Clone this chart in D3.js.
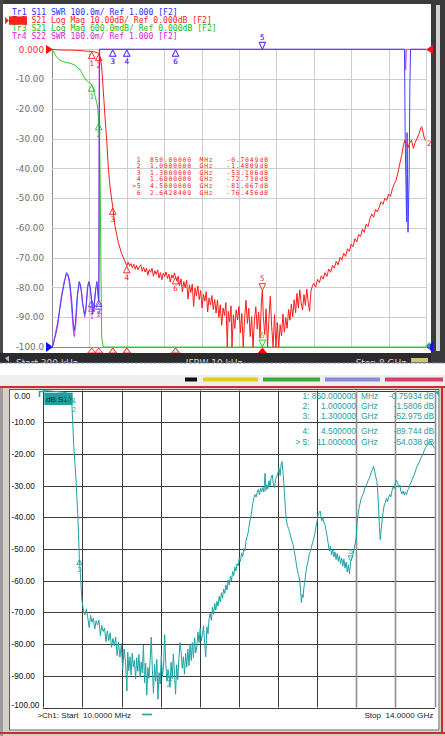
<!DOCTYPE html>
<html><head><meta charset="utf-8">
<script src="https://cdn.jsdelivr.net/npm/d3@7/dist/d3.min.js"></script>
<style>body{margin:0;background:#fff}svg{display:block}text{white-space:pre}</style>
</head><body>
<svg id="c" width="445" height="736"></svg>
<script>
// ================= DATA =================
// ---- top analyzer (ENA style) ----
const topStart = 0.0003, topStop = 8;           // GHz
const topTitleLines = ["Tr1 S11 SWR 100.0m/ Ref 1.000 [F2]",
  "Tr2 S21 Log Mag 10.00dB/ Ref 0.000dB [F2]",
  "Tr3 S21 Log Mag 600.0mdB/ Ref 0.000dB [F2]",
  "Tr4 S22 SWR 100.0m/ Ref 1.000 [F2]"];
const topYTicks = [0,-10,-20,-30,-40,-50,-60,-70,-80,-90,-100];
const topYTickLabels = ["0.000","-10.00","-20.00","-30.00","-40.00","-50.00","-60.00","-70.00","-80.00","-90.00","-100.0"];
const topStatus = ["Start 300 kHz","IFBW 10 kHz","Stop 8 GHz"];
const topMarkerNums = ["1","2","3","4",">5","6"];
const topMarkerFreqs = [0.85,1.0,1.3,1.6,4.5,2.6428409];
const topMarkerFreqText = ["850.00000","1.0000000","1.3000000","1.6000000","4.5000000","2.6428409"];
const topMarkerUnits = ["MHz","GHz","GHz","GHz","GHz","GHz"];
const topMarkerValues = [-0.7049,-1.4809,-53.106,-72.730,-81.067,-76.456];
const topMarkerValueText = ["-0.7049","-1.4809","-53.106","-72.730","-81.067","-76.456"];
const topActiveMarker = 4;
// S21 (Tr2 red at 10 dB/div, Tr3 green at 0.6 dB/div), [GHz, dB]
const s21Top = [[0.0003,0],[0.05,-0.08],[0.1,-0.16],[0.17,-0.22],[0.24,-0.25],[0.32,-0.27],[0.385,-0.28],[0.47,-0.31],[0.56,-0.37],[0.62,-0.44],[0.67,-0.53],[0.73,-0.62],[0.78,-0.66],[0.85,-0.7049],[0.89,-0.82],[0.92,-0.94],[0.96,-1.08],[0.98,-1.2],[1.0,-1.4809],[1.015,-1.7],[1.027,-2.4],[1.045,-4.2],[1.063,-5.8],[1.097,-13.7],[1.134,-22.7],[1.17,-30.5],[1.204,-39.5],[1.24,-46.0],[1.3,-53.106],[1.35,-59.6],[1.42,-65.0],[1.49,-68.6],[1.55,-70.8],
 [1.60,-72.73],[1.63,-71.5],[1.66,-72.8],[1.69,-72.0],[1.72,-73.4],[1.75,-72.2],[1.78,-73.9],[1.81,-72.6],[1.84,-74.1],[1.87,-73.0],[1.90,-72.4],[1.93,-74.6],[1.96,-73.2],[1.99,-74.8],[2.02,-73.5],[2.05,-75.9],[2.08,-74.0],[2.11,-74.9],[2.14,-73.6],[2.17,-76.2],[2.20,-74.4],[2.23,-75.6],[2.26,-74.1],[2.29,-76.8],[2.32,-75.0],[2.35,-77.4],[2.38,-75.2],[2.41,-76.3],[2.44,-74.8],[2.47,-77.0],[2.50,-75.5],[2.53,-78.2],[2.56,-75.8],[2.59,-76.9],[2.62,-75.1],[2.6428,-76.456],
 [2.67,-77.8],[2.70,-76.2],[2.73,-79.4],[2.76,-77.1],[2.79,-81.5],[2.82,-78.0],[2.85,-80.2],[2.88,-77.6],[2.91,-83.9],[2.94,-79.1],[2.97,-81.7],[3.00,-78.9],[3.03,-86.4],[3.06,-80.2],[3.09,-82.8],[3.12,-79.5],[3.15,-84.1],[3.18,-81.0],[3.21,-86.9],[3.24,-82.3],[3.27,-84.6],[3.30,-81.4],[3.33,-88.2],[3.36,-83.5],[3.39,-85.9],[3.42,-82.7],[3.45,-87.4],[3.48,-84.0],
 [3.51,-88.6],[3.54,-84.2],[3.57,-90.1],[3.60,-85.8],[3.63,-92.7],[3.66,-86.9],[3.69,-89.4],[3.72,-85.1],[3.75,-104],[3.77,-88.0],[3.80,-91.6],[3.83,-86.2],[3.85,-104],[3.88,-89.3],[3.91,-93.8],[3.94,-87.5],[3.97,-90.9],[4.00,-86.4],[4.03,-95.2],[4.06,-88.7],[4.09,-104],[4.12,-90.4],[4.15,-84.3],[4.18,-92.1],[4.21,-87.0],[4.24,-96.5],[4.27,-89.8],[4.30,-104],[4.33,-91.2],[4.36,-86.5],[4.39,-94.0],[4.42,-88.3],[4.45,-97.1],[4.48,-84.6],[4.50,-81.067],[4.52,-89.7],[4.55,-95.8],[4.58,-87.2],[4.61,-104],[4.64,-90.6],[4.67,-82.9],[4.70,-93.4],[4.73,-104],[4.76,-89.1],[4.79,-104],[4.82,-91.8],[4.85,-104],[4.88,-92.5],[4.91,-96.3],[4.94,-88.9],[4.97,-95.0],[5.00,-90.2],
 [5.03,-93.7],[5.06,-87.4],[5.09,-91.0],[5.12,-85.6],[5.15,-89.8],[5.18,-84.1],[5.21,-88.5],[5.24,-82.0],[5.27,-86.9],[5.30,-80.8],[5.33,-85.2],[5.36,-87.5],[5.39,-82.4],[5.42,-86.0],[5.45,-80.6],[5.48,-84.9],[5.51,-88.0],[5.54,-81.2],[5.57,-79.5],
 [5.60,-78.6],[5.64,-79.9],[5.68,-77.3],[5.72,-78.4],[5.76,-76.1],[5.80,-77.2],[5.84,-75.0],[5.88,-76.3],[5.92,-73.8],[5.96,-74.9],[6.00,-72.6],[6.04,-73.5],[6.08,-71.2],[6.12,-72.4],[6.16,-69.9],[6.20,-70.8],[6.24,-68.5],[6.28,-69.6],[6.32,-67.0],[6.36,-67.9],[6.40,-65.4],[6.44,-66.3],[6.48,-63.6],[6.52,-64.7],[6.56,-62.2],[6.60,-62.9],[6.64,-60.4],[6.68,-61.5],[6.72,-58.7],[6.76,-59.6],[6.80,-56.9],[6.84,-55.3],[6.88,-56.4],[6.92,-53.8],[6.96,-54.6],
 [7.00,-53.0],[7.04,-51.2],[7.08,-52.1],[7.12,-50.0],[7.16,-50.8],[7.20,-48.6],[7.24,-49.4],[7.28,-46.9],[7.32,-45.2],[7.36,-44.0],[7.40,-41.5],[7.44,-38.4],[7.48,-35.6],[7.52,-32.0],[7.55,-30.5],[7.58,-31.9],[7.62,-33.0],[7.65,-31.4],[7.69,-30.5],[7.73,-33.3],[7.77,-31.2],[7.81,-29.9],[7.85,-28.4],[7.89,-26.3],[7.91,-26.0],[7.94,-28.1],[7.97,-30.2],[8.00,-30.6]];
// S11 SWR (Tr1 blue) and S22 SWR (Tr4 magenta), [GHz, SWR]
const s11Top = [[0.0003,1.0],[0.02,1.005],[0.06,1.03],[0.12,1.07],[0.17,1.13],[0.22,1.18],[0.27,1.22],[0.31,1.25],[0.34,1.245],[0.38,1.22],[0.42,1.16],[0.46,1.07],[0.475,1.055],[0.50,1.08],[0.54,1.17],[0.58,1.22],[0.61,1.21],[0.65,1.15],[0.70,1.11],[0.72,1.12],[0.76,1.20],[0.79,1.22],[0.82,1.20],[0.87,1.13],[0.89,1.12],[0.93,1.19],[0.96,1.22],[0.99,1.18],[1.0,1.16],[1.006,1.25],[1.015,2.6],[7.54,2.6],[7.555,1.7],[7.585,1.42],[7.595,1.72],[7.615,1.385],[7.64,1.58],[7.655,1.88],[7.67,2.6],[8.0,2.6]];
const s22Top = [[0.0003,1.0],[0.03,1.01],[0.08,1.05],[0.14,1.10],[0.2,1.17],[0.26,1.22],[0.31,1.245],[0.35,1.235],[0.39,1.19],[0.43,1.11],[0.465,1.04],[0.48,1.035],[0.51,1.08],[0.55,1.18],[0.59,1.215],[0.63,1.19],[0.67,1.13],[0.70,1.10],[0.73,1.13],[0.77,1.21],[0.80,1.215],[0.84,1.16],[0.87,1.11],[0.90,1.13],[0.94,1.20],[0.97,1.20],[0.99,1.16],[1.0,1.15],[1.005,1.5],[1.012,2.6],[7.55,2.6],[7.565,1.93],[7.58,2.6],[8.0,2.6]];

// ---- bottom analyzer (PNA style) ----
const botStart = 0.01, botStop = 14;
const botYTicks = [0,-10,-20,-30,-40,-50,-60,-70,-80,-90,-100];
const botYTickLabels = ["0.00","-10.00","-20.00","-30.00","-40.00","-50.00","-60.00","-70.00","-80.00","-90.00","-100.00"];
const botTraceLabel = "dB S12";
const botStartText = ">Ch1: Start  10.0000 MHz";
const botStopText = "Stop  14.0000 GHz";
const botMarkerNums = ["1:","2:","3:","4:","> 5:"];
const botMarkerLabels = ["1","2","3","4","5"];
const botMarkerFreqs = [0.85,1.0,1.3,4.5,11.0];
const botMarkerFreqText = ["850.000000","1.000000","1.300000","4.500000","11.000000"];
const botMarkerUnits = ["MHz","GHz","GHz","GHz","GHz"];
const botMarkerValues = [-0.75934,-1.5806,-52.975,-89.744,-54.038];
const botMarkerValueText = ["-0.75934","-1.5806","-52.975","-89.744","-54.038"];
const botActiveMarker = 4;
const s12Bot = [[0.01,0],[0.2,-0.1],[0.5,-0.3],[0.7,-0.5],[0.85,-0.75934],[0.93,-1.1],[1.0,-1.5806],[1.03,-4.0],[1.06,-9.5],[1.1,-17.7],[1.14,-23.0],[1.18,-28.2],[1.21,-33.5],[1.24,-38.7],[1.27,-45.5],[1.3,-52.975],[1.33,-57.0],[1.36,-61.5],[1.39,-66.0],[1.43,-68.5],[1.47,-70.3],
 [1.50,-70.8],[1.55,-68.9],[1.60,-71.6],[1.65,-74.8],[1.70,-70.9],[1.75,-73.1],[1.80,-71.8],[1.85,-75.2],[1.90,-72.6],[1.95,-74.0],[2.00,-72.4],[2.05,-77.3],[2.10,-74.1],[2.15,-76.0],[2.20,-74.9],[2.25,-79.2],[2.30,-75.8],[2.35,-78.9],[2.40,-76.4],[2.45,-81.0],[2.50,-78.2],[2.55,-80.5],[2.60,-77.8],[2.65,-83.6],[2.70,-79.4],[2.75,-84.1],[2.80,-80.2],[2.85,-87.9],[2.90,-81.5],[2.95,-85.7],[3.00,-94.8],
 [3.03,-82.6],[3.07,-88.4],[3.11,-84.0],[3.15,-89.7],[3.19,-82.9],[3.23,-87.2],[3.27,-85.1],[3.31,-91.0],[3.35,-84.3],[3.39,-88.6],[3.43,-83.2],[3.47,-90.4],[3.51,-85.6],[3.55,-89.1],[3.59,-80.3],[3.63,-92.2],[3.67,-86.0],[3.71,-96.1],[3.75,-87.4],[3.79,-90.8],[3.83,-85.2],[3.87,-77.8],[3.91,-88.1],[3.95,-95.5],[3.99,-86.4],[4.03,-91.7],[4.07,-84.8],[4.11,-97.4],[4.15,-89.0],[4.19,-92.6],[4.23,-83.5],[4.27,-90.3],[4.31,-87.1],[4.35,-77.0],[4.39,-86.2],[4.43,-91.4],[4.47,-88.0],[4.50,-89.744],[4.54,-93.2],[4.58,-85.7],[4.62,-90.9],[4.66,-83.1],[4.70,-88.8],[4.74,-95.8],[4.78,-86.5],[4.82,-91.2],[4.86,-84.6],[4.90,-79.5],[4.94,-82.7],
 [4.98,-87.6],[5.02,-84.0],[5.06,-89.5],[5.10,-82.9],[5.14,-87.3],[5.18,-81.6],[5.22,-86.8],[5.26,-80.0],[5.30,-85.2],[5.34,-79.5],[5.38,-84.4],[5.42,-78.0],[5.46,-82.8],[5.50,-80.8],[5.54,-76.2],[5.58,-79.5],[5.62,-75.1],[5.66,-78.9],[5.70,-77.0],[5.74,-74.2],[5.78,-79.6],[5.82,-84.0],[5.86,-74.5],[5.90,-76.8],[5.94,-71.9],[5.98,-70.3],
 [6.02,-72.5],[6.06,-68.4],[6.10,-70.6],[6.14,-67.2],[6.18,-69.3],[6.22,-66.5],[6.26,-68.0],[6.30,-64.9],[6.34,-66.7],[6.38,-63.8],[6.42,-65.5],[6.46,-62.6],[6.50,-64.0],[6.54,-61.3],[6.58,-62.9],[6.62,-59.8],[6.66,-61.4],[6.70,-58.6],[6.74,-60.0],[6.78,-57.1],[6.82,-58.4],[6.86,-55.7],[6.90,-56.9],[6.94,-54.6],[6.98,-55.3],[7.02,-52.8],[7.06,-53.9],[7.10,-51.2],[7.14,-52.4],[7.18,-49.8],[7.22,-50.6],[7.26,-47.3],[7.30,-46.0],[7.34,-44.6],[7.38,-42.1],[7.42,-40.2],[7.46,-38.3],[7.50,-35.7],[7.54,-33.9],[7.58,-32.8],[7.62,-33.6],[7.66,-32.1],[7.70,-31.2],[7.74,-32.9],[7.78,-30.8],[7.82,-31.9],[7.86,-30.6],[7.90,-32.0],[7.94,-26.1],[7.97,-31.5],
 [8.00,-29.7],[8.04,-31.0],[8.08,-28.4],[8.12,-30.2],[8.16,-27.3],[8.20,-26.6],[8.24,-29.8],[8.28,-30.6],[8.32,-28.0],[8.36,-27.1],[8.40,-26.0],[8.44,-24.5],[8.48,-26.8],[8.52,-23.0],[8.55,-22.4],[8.58,-25.6],[8.61,-28.9],[8.64,-33.2],[8.67,-37.5],[8.70,-40.8],[8.74,-42.6],[8.78,-43.5],[8.82,-44.7],[8.86,-46.2],[8.90,-47.4],[8.94,-48.6],[8.98,-50.5],[9.02,-52.3],[9.06,-54.8],[9.10,-56.9],[9.14,-58.1],[9.18,-60.2],[9.21,-62.8],[9.24,-66.9],[9.27,-64.4],[9.30,-65.3],[9.33,-62.1],[9.36,-60.5],[9.40,-57.4],[9.44,-55.2],[9.48,-53.8],[9.52,-51.6],[9.56,-50.7],[9.60,-49.4],[9.64,-47.9],[9.68,-46.8],[9.72,-45.1],[9.76,-43.0],[9.80,-41.2],[9.84,-39.0],[9.88,-38.5],[9.91,-38.0],[9.94,-39.6],[9.97,-41.1],
 [10.00,-40.0],[10.04,-41.5],[10.08,-42.2],[10.12,-44.1],[10.16,-46.0],[10.20,-48.3],[10.24,-50.6],[10.28,-49.1],[10.32,-51.8],[10.36,-50.2],[10.40,-52.5],[10.44,-50.9],[10.48,-53.3],[10.52,-51.4],[10.56,-53.9],[10.60,-52.1],[10.64,-54.6],[10.68,-52.8],[10.72,-55.4],[10.76,-53.2],[10.80,-56.0],[10.84,-54.1],[10.88,-57.2],[10.92,-55.0],[10.96,-57.8],[11.00,-54.038],[11.04,-53.0],[11.08,-51.7],[11.12,-50.2],[11.16,-48.4],[11.20,-46.5],[11.23,-42.0],[11.26,-39.5],[11.30,-37.2],[11.34,-35.5],[11.38,-34.0],[11.42,-33.2],[11.46,-32.4],[11.50,-31.0],[11.54,-30.3],[11.58,-29.5],[11.62,-28.5],[11.66,-27.8],[11.70,-26.9],[11.74,-25.7],[11.78,-24.9],[11.82,-23.9],[11.86,-25.5],[11.90,-27.2],[11.94,-28.6],[11.97,-32.0],
 [12.00,-37.0],[12.03,-43.0],[12.06,-47.0],[12.09,-44.0],[12.12,-41.5],[12.16,-38.5],[12.20,-36.2],[12.24,-35.4],[12.28,-34.0],[12.32,-35.1],[12.36,-33.6],[12.40,-32.8],[12.44,-33.5],[12.48,-31.6],[12.52,-30.4],[12.56,-30.9],[12.60,-29.2],[12.64,-28.3],[12.68,-29.0],[12.72,-30.5],[12.76,-29.8],[12.80,-31.8],[12.84,-32.6],[12.88,-31.7],[12.92,-33.0],[12.96,-32.0],[13.00,-32.8],[13.04,-31.4],[13.08,-31.0],[13.12,-29.7],[13.16,-29.0],[13.20,-28.1],[13.24,-27.3],[13.28,-26.4],[13.32,-25.4],[13.36,-24.2],[13.40,-23.5],[13.44,-22.8],[13.48,-22.0],[13.52,-21.2],[13.56,-20.6],[13.60,-19.7],[13.64,-18.9],[13.68,-18.0],[13.72,-17.4],[13.76,-16.9],[13.80,-16.3],[13.84,-15.9],[13.88,-16.5],[13.92,-17.1],[13.96,-17.6],[14.00,-18.2]];

// ================= DRAWING =================
const svg = d3.select('#c');
const MONO = "'DejaVu Sans Mono', monospace";
const SANS = "'DejaVu Sans', sans-serif";
const ARIAL = "'Liberation Sans', Arial, sans-serif";
function rect(x,y,w,h,fill){return svg.append('rect').attr('x',x).attr('y',y).attr('width',w).attr('height',h).attr('fill',fill);}
function hline(g,x1,x2,y,c,w){return g.append('line').attr('x1',x1).attr('x2',x2).attr('y1',y).attr('y2',y).attr('stroke',c).attr('stroke-width',w||1);}
function vline(g,x,y1,y2,c,w){return g.append('line').attr('x1',x).attr('x2',x).attr('y1',y1).attr('y2',y2).attr('stroke',c).attr('stroke-width',w||1);}
function interp(data,f){
  const i = d3.bisector(d=>d[0]).left(data,f);
  if(i<=0) return data[0][1]; if(i>=data.length) return data[data.length-1][1];
  const a=data[i-1], b=data[i]; return a[1]+(b[1]-a[1])*(f-a[0])/(b[0]-a[0]);
}
const crisp = v => Math.round(v)+0.5;

// ---------- TOP PANEL ----------
rect(0,0,445,363,'#ffffff');
rect(0,0,445,4,'#3b3b3b');
rect(0,0,3,363,'#4a4a4a');
rect(431,0,14,363,'#3a3a3a');
rect(436,5,4,346,'#d2d2d2');

const xT = d3.scaleLinear().domain([topStart, topStop]).range([52,426]);
const yR = d3.scaleLinear().domain([-100,0]).range([347,49.3]).clamp(true);
const yG = d3.scaleLinear().domain([-6,0]).range([347,49.3]).clamp(true);
const yS = d3.scaleLinear().domain([1,2]).range([347,49.3]).clamp(true);

const gT = svg.append('g');
const topXGrid = d3.range(11).map(i=>topStart+i*(topStop-topStart)/10);
topXGrid.forEach((f,i)=>vline(gT,crisp(xT(f)),49,347, i===0?'#8c8c8c':'#cdcdcd'));
topYTicks.forEach((v,i)=>hline(gT,52,426,crisp(yR(v)), i===topYTicks.length-1?'#8c8c8c':'#cdcdcd'));

topYTicks.forEach((v,i)=>{
  gT.append('text').attr('x',44).attr('y',yR(v)+3.2).attr('text-anchor','end')
    .attr('font-family',SANS).attr('font-size',8.8)
    .attr('fill', i===0?'#ff3030':'#6e6e6e').text(topYTickLabels[i]);
});
function tri(g,pts,fill){g.append('path').attr('d','M'+pts.map(p=>p.join(',')).join('L')+'Z').attr('fill',fill);}
tri(gT,[[46,45],[53,49.5],[46,54]],'#ff1010');
tri(gT,[[433,45],[426,49.5],[433,54]],'#ff1010');
tri(gT,[[46,342],[53,347],[46,352]],'#1010ff');
tri(gT,[[433,342],[426,347],[433,352]],'#1010ff');
tri(gT,[[430,342],[426,345.5],[430,349]],'#20c020');

topTitleLines.forEach((s,i)=>{
  const y = 14.7 + i*8.2;
  if(i===1){
    rect(9,16.4,18,8.4,'#ff2020');
    tri(gT,[[5,17],[9,20.6],[5,24.2]],'#ff2020');
  }
  const t = gT.append('text').attr('x',12).attr('y',y).attr('font-family',MONO).attr('font-size',8.1)
    .attr('fill',['#2030ff','#ff2020','#10c010','#e020e0'][i]);
  if(i===1){ t.append('tspan').attr('fill','#6a0000').text(s.slice(0,3)); t.append('tspan').text(s.slice(3)); }
  else t.text(s);
});

svg.append('clipPath').attr('id','clipT').append('rect').attr('x',51).attr('y',48).attr('width',376).attr('height',300.5);
const gTr = gT.append('g').attr('clip-path','url(#clipT)');
const lineT = (ys)=>d3.line().x(d=>xT(d[0])).y(d=>ys(d[1]));
gTr.append('path').datum(s22Top).attr('d',lineT(yS)).attr('fill','none').attr('stroke','#e33ae3').attr('stroke-width',1);
gTr.append('path').datum(s21Top).attr('d',lineT(yG)).attr('fill','none').attr('stroke','#22d022').attr('stroke-width',1);
gTr.append('path').datum(s11Top).attr('d',lineT(yS)).attr('fill','none').attr('stroke','#4040ff').attr('stroke-width',1);
gTr.append('path').datum(s21Top).attr('d',lineT(yR)).attr('fill','none').attr('stroke','#ff1a1a').attr('stroke-width',1);

function mUp(g,x,y,c,label,h,w,fs,font,lo,dx){
  g.append('path').attr('d',`M${x},${y}L${x+w},${y+h}L${x-w},${y+h}Z`).attr('fill','none').attr('stroke',c).attr('stroke-width',0.9);
  g.append('text').attr('x',x+(dx||0)).attr('y',y+h+lo).attr('text-anchor','middle').attr('font-family',font).attr('font-size',fs).attr('fill',c).text(label);
}
function mDown(g,x,y,c,label,h,w,fs,font,lo){
  g.append('path').attr('d',`M${x},${y}L${x+w},${y-h}L${x-w},${y-h}Z`).attr('fill','none').attr('stroke',c).attr('stroke-width',0.9);
  g.append('text').attr('x',x).attr('y',y-h-lo).attr('text-anchor','middle').attr('font-family',font).attr('font-size',fs).attr('fill',c).text(label);
}
const gM = gT.append('g');
const mLabels = ["1","2","3","4","5","6"];
function topMarkers(data, ys, c, useTable){
  topMarkerFreqs.forEach((f,i)=>{
    const v = useTable ? topMarkerValues[i] : interp(data,f);
    const x = xT(f), y = ys(v);
    if(i===topActiveMarker) mDown(gM,x,y,c,mLabels[i],7,3.3,7.5,MONO,2.5);
    else mUp(gM,x,y+0.5,c,mLabels[i],6.5,3.3,7.5,MONO,7.5);
  });
}
topMarkers(s22Top,yS,'#e33ae3',false);
topMarkers(s11Top,yS,'#4040ff',false);
topMarkers(s21Top,yG,'#22c022',true);
topMarkers(s21Top,yR,'#ff1a1a',true);
topMarkerFreqs.forEach((f,i)=>{
  const x = xT(f);
  if(i===topActiveMarker) tri(gT,[[x,347.5],[x+4.5,353],[x-4.5,353]],'#ff0000');
  else gT.append('path').attr('d',`M${x},348L${x+4},353L${x-4},353Z`).attr('fill','#ffd0d0').attr('stroke','#ff3030').attr('stroke-width',0.9).attr('fill-opacity',0.6);
});
gT.append('text').attr('x',427).attr('y',146).attr('font-family',MONO).attr('font-size',7.5).attr('fill','#ff1a1a').text('2');

// marker table (top)
topMarkerNums.forEach((n,i)=>{
  const y = 161.8 + i*6.55;
  const tt = (x,s,anchor)=>gT.append('text').attr('x',x).attr('y',y).attr('text-anchor',anchor||'start')
     .attr('font-family',MONO).attr('font-size',6.4).attr('letter-spacing',0.8).attr('fill','#ff2020').text(s);
  tt(141.5,n,'end'); tt(150,topMarkerFreqText[i]); tt(199.5,topMarkerUnits[i]); tt(226.5,topMarkerValueText[i]); tt(259.5,'dB');
});

// status strip
rect(0,353,431,10,'#2b2b2b');
svg.append('clipPath').attr('id','clipS').append('rect').attr('x',0).attr('y',353).attr('width',445).attr('height',9.5);
const gS = svg.append('g').attr('clip-path','url(#clipS)');
gS.append('text').attr('x',16).attr('y',365.5).attr('font-family',SANS).attr('font-size',9).attr('fill','#dcdcdc').text(topStatus[0]);
gS.append('text').attr('x',214).attr('y',365.5).attr('text-anchor','middle').attr('font-family',SANS).attr('font-size',9).attr('fill','#dcdcdc').text(topStatus[1]);
gS.append('text').attr('x',406).attr('y',365.5).attr('text-anchor','end').attr('font-family',SANS).attr('font-size',9).attr('fill','#dcdcdc').text(topStatus[2]);
gS.append('rect').attr('x',411).attr('y',358).attr('width',17).attr('height',6).attr('fill','#c8c878');
tri(gS,[[5,358],[9,356],[9,362]],'#bbbbbb');
svg.append('line').attr('x1',0).attr('x2',445).attr('y1',363).attr('y2',363).attr('stroke','#6f8fc6').attr('stroke-dasharray','3,1.5');

// ---------- BOTTOM PANEL ----------
rect(0,375,445,11,'#eeeeee');
[[185,12,'#111111'],[203,55,'#e2cf10'],[263,57,'#3aaa3a'],[325,55,'#8a8ad6'],[385,58,'#d6406c']].forEach(t=>rect(t[0],377.5,t[1],4,t[2]));
rect(0,386,445,350,'#d4d0c8');
rect(0,386,3,350,'#9c9c9c');
rect(0,386,445,2,'#d22a2a');
rect(9,389,431,342,'#ffffff');
svg.append('rect').attr('x',9.5).attr('y',389.5).attr('width',429.5).attr('height',340.5).attr('fill','none').attr('stroke','#5a5a5a');
rect(441,386,2,348,'#d22a2a');
rect(0,732,445,2,'#d22a2a');

const xB = d3.scaleLinear().domain([botStart, botStop]).range([43.3,434.5]);
const yB = d3.scaleLinear().domain([-100,0]).range([707.5,390.6]).clamp(true);
const gB = svg.append('g');
const botXGrid = d3.range(11).map(i=>botStart+i*(botStop-botStart)/10);
botYTicks.forEach((v,i)=>hline(gB,43,435,crisp(yB(v)),'#3c3c3c'));
botXGrid.forEach((f,i)=>{
  const x = crisp(xB(f));
  if(i>=8) vline(gB,x,390.6,707.5,'#8e8e8e',1.6);
  else vline(gB,x,390.6,707.5,'#3c3c3c');
});
botYTicks.forEach((v,i)=>{
  let y = yB(v)+3;
  if(i===0) y = 399; if(i===botYTicks.length-1) y = 708;
  gB.append('text').attr('x', i===0?14.3:11.6).attr('y',y).attr('font-family',ARIAL).attr('font-size',8.2)
    .attr('fill','#111').text(botYTickLabels[i]);
});
svg.append('clipPath').attr('id','clipB').append('rect').attr('x',43).attr('y',390).attr('width',392).attr('height',318);
const gBt = gB.append('g').attr('clip-path','url(#clipB)');
gBt.append('path').datum(s12Bot).attr('d',d3.line().x(d=>xB(d[0])).y(d=>yB(d[1])))
  .attr('fill','none').attr('stroke','#1ea3a3').attr('stroke-width',1);
gB.append('path').attr('d','M39.5,397L39.5,391.5L46,391.5').attr('fill','none').attr('stroke','#1ea3a3').attr('stroke-width',1.5);
tri(gB,[[435,391],[438.5,391],[438.5,396]],'#1ea3a3');
gB.append('rect').attr('x',44.3).attr('y',392.7).attr('width',28.4).attr('height',12.3).attr('fill','#1fa0a0');
gB.append('text').attr('x',46).attr('y',402).attr('font-family',ARIAL).attr('font-size',8).attr('fill','#0a2a2a').text(botTraceLabel);
const botLabelLift = [4, 1, 0, 0];   // label spacing tweaks (style)
const botLabelDx = [7.5, 3, 0, 0];
botMarkerFreqs.forEach((f,i)=>{
  const x = xB(f), y = yB(botMarkerValues[i]);
  if(i===botActiveMarker) mDown(gB,x,y-1,'#1ea3a3',botMarkerLabels[i],5,2.5,8,ARIAL,1.5);
  else mUp(gB,x,y+1,'#1ea3a3',botMarkerLabels[i],5,2.5,i<2?7:8,ARIAL,7.5-botLabelLift[i]+(i===1?4:0),botLabelDx[i]);
});
// marker table (bottom)
const botRowsY = [399,409,419,434,444.6];
botMarkerNums.forEach((n,i)=>{
  const y = botRowsY[i];
  const tt = (x,s,anchor)=>gB.append('text').attr('x',x).attr('y',y).attr('text-anchor',anchor||'start')
     .attr('font-family',ARIAL).attr('font-size',8.4).attr('fill','#1e9e9e').text(s);
  tt(309.5,n,'end'); tt(356,botMarkerFreqText[i],'end'); tt(361,botMarkerUnits[i]); tt(422,botMarkerValueText[i],'end'); tt(423.8,'dB');
});
gB.append('text').attr('x',37.3).attr('y',718).attr('font-family',ARIAL).attr('font-size',8.1).attr('fill','#1a1a1a').text(botStartText);
gB.append('line').attr('x1',142).attr('x2',152).attr('y1',714.5).attr('y2',714.5).attr('stroke','#1ea3a3').attr('stroke-width',1.6);
gB.append('text').attr('x',433.3).attr('y',718).attr('text-anchor','end').attr('font-family',ARIAL).attr('font-size',8.1).attr('fill','#1a1a1a').text(botStopText);
</script>
</body></html>
